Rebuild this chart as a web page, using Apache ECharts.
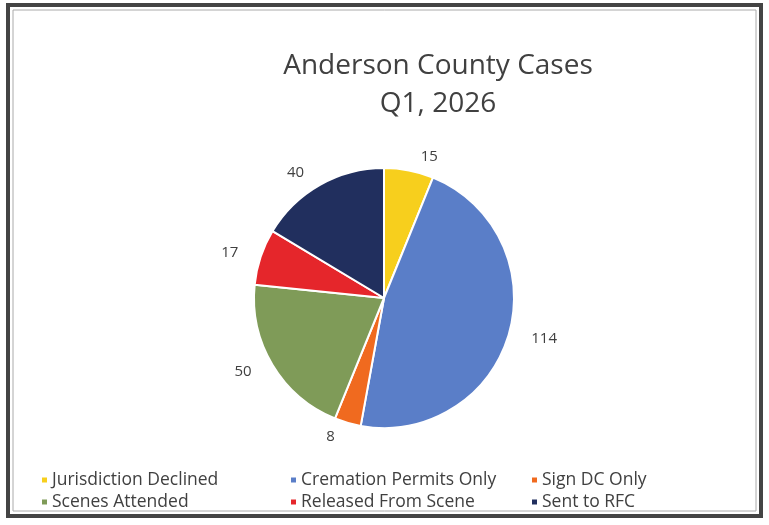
<!DOCTYPE html>
<html>
<head>
<meta charset="utf-8">
<script src="https://cdn.jsdelivr.net/npm/echarts@6/dist/echarts.min.js"></script>
<style>
  html, body { margin: 0; padding: 0; background: #fff; }
  #chart { width: 769px; height: 525px; }
</style>
</head>
<body>
<div id="chart"></div>
<script>
var categories = [
  "Jurisdiction Declined",
  "Cremation Permits Only",
  "Sign DC Only",
  "Scenes Attended",
  "Released From Scene",
  "Sent to RFC"
];
var values = [15, 114, 8, 50, 17, 40];
var colors = ["#f7cf1d", "#5a7ec8", "#f06a1f", "#7f9b58", "#e5262b", "#212f5e"];

var legendCols = [
  ["Jurisdiction Declined", "Scenes Attended"],
  ["Cremation Permits Only", "Released From Scene"],
  ["Sign DC Only", "Sent to RFC"]
];
var legendLeft = [35, 284, 525];

var chart = echarts.init(document.getElementById("chart"));

var pieData = [];
for (var i = 0; i < categories.length; i++) {
  pieData.push({ name: categories[i], value: values[i], itemStyle: { color: colors[i] } });
}

var legends = legendCols.map(function (col, k) {
  return {
    orient: "vertical",
    left: legendLeft[k],
    top: 466,
    data: col,
    icon: "rect",
    itemWidth: 7,
    itemHeight: 7,
    itemGap: 4,
    textStyle: { fontFamily: "Open Sans", fontSize: 17.5, color: "#404040", padding: [0, 0, 0, -1] }
  };
});

var option = {
  animation: false,
  backgroundColor: "#fff",
  title: {
    text: "Anderson County Cases\nQ1, 2026",
    left: 433,
    textAlign: "center",
    top: 42,
    textStyle: {
      fontFamily: "Open Sans",
      fontWeight: "normal",
      fontSize: 28,
      lineHeight: 38,
      color: "#404040"
    }
  },
  legend: legends,
  graphic: [
    { type: "rect", shape: { x: 8, y: 5, width: 753, height: 511 },
      style: { fill: "none", stroke: "#444", lineWidth: 4 } },
    { type: "rect", shape: { x: 13, y: 10, width: 743, height: 501 },
      style: { fill: "none", stroke: "#aaa", lineWidth: 1 } }
  ],
  series: [
    {
      type: "pie",
      center: [384, 298],
      radius: 130,
      startAngle: 90,
      clockwise: true,
      data: pieData,
      itemStyle: { borderColor: "#fff", borderWidth: 2 },
      label: {
        show: true,
        position: "outside",
        formatter: "{c}",
        fontFamily: "Open Sans",
        fontSize: 15,
        color: "#404040"
      },
      labelLine: { show: false, length: 14, length2: 4 },
      emphasis: { disabled: true }
    }
  ]
};

chart.setOption(option);
</script>
</body>
</html>
